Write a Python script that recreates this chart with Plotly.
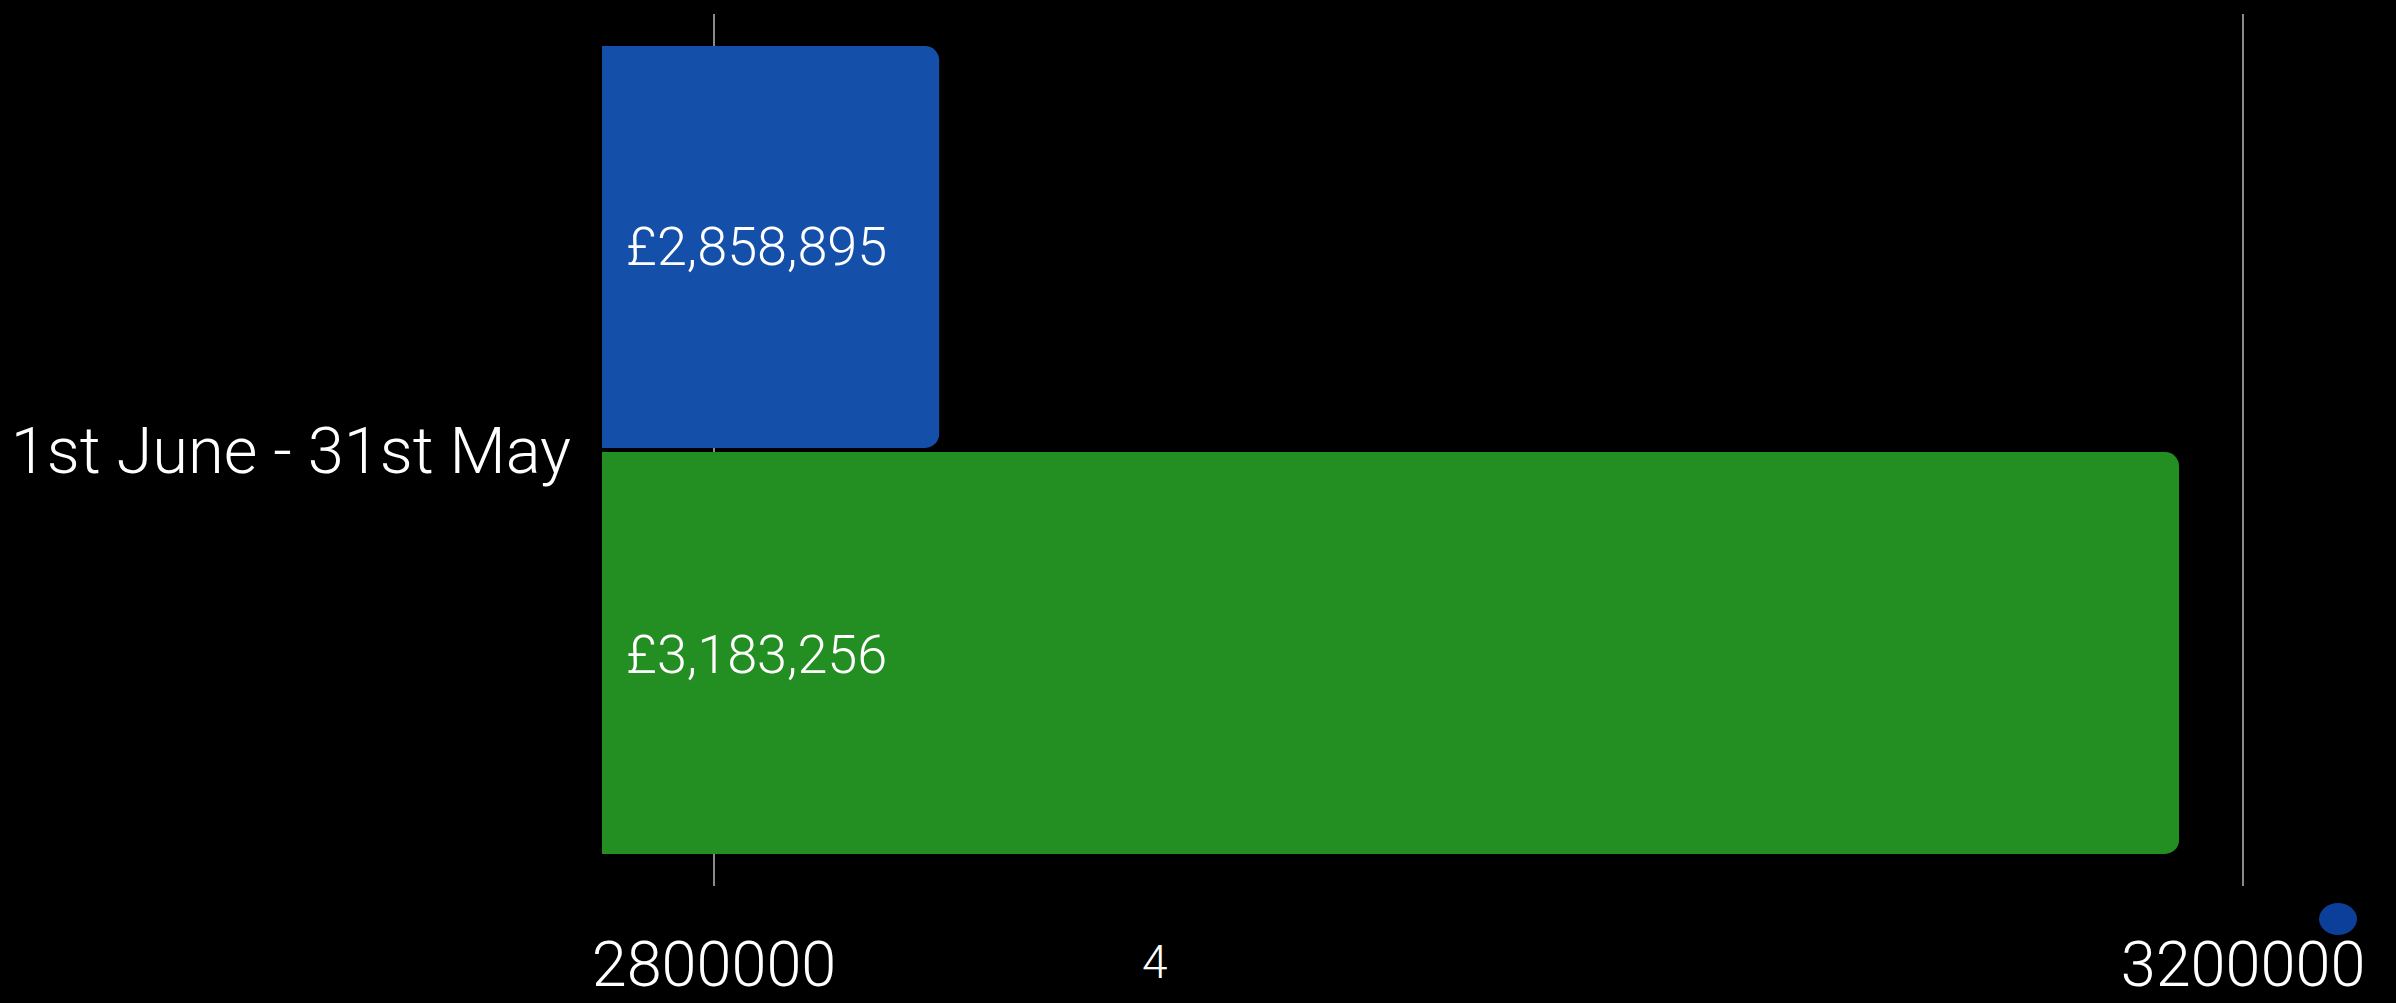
import plotly.graph_objects as go

categories = ["1st June - 31st May"]
series_names = ["Previous", "Current"]
blue_values = [2858895]
green_values = [3183256]
blue_labels = ["£2,858,895"]
green_labels = ["£3,183,256"]
tick_values = [2800000, 3200000]
x_range = [2770700, 3214900]
axis_title = "4"

FONT = "Roboto"

fig = go.Figure()
# first trace is drawn at the bottom of the group in horizontal bars
fig.add_trace(go.Bar(
    y=categories, x=green_values, orientation="h", name=series_names[1],
    marker=dict(color="#238E22", line=dict(width=0), cornerradius=14),
    hovertext=green_labels,
))
fig.add_trace(go.Bar(
    y=categories, x=blue_values, orientation="h", name=series_names[0],
    marker=dict(color="#1450AA", line=dict(width=0), cornerradius=14),
    hovertext=blue_labels,
))

fig.update_layout(
    width=2396, height=1003,
    paper_bgcolor="black", plot_bgcolor="black",
    margin=dict(l=602, r=96, t=14, b=117),
    barmode="group", bargap=0.069, bargroupgap=0.01,
    showlegend=False,
)
fig.update_xaxes(
    range=x_range, tickvals=tick_values, tickformat="d",
    showgrid=True, gridcolor="#8a8a8a", gridwidth=2,
    zeroline=False, showline=False, ticks="",
    tickfont=dict(family=FONT, size=63, color="white", weight=300),
    ticklabelstandoff=36, automargin=False,
)
fig.update_yaxes(
    showgrid=False, zeroline=False, showline=False, ticks="",
    tickfont=dict(family=FONT, size=65, color="white", weight=300),
    ticklabelstandoff=30, automargin=False,
)

# value labels placed at the start of each bar (bars begin left of the visible range)
for labels, shift in ((blue_labels, 204), (green_labels, -204)):
    for cat, lab in zip(categories, labels):
        fig.add_annotation(
            text=lab, xref="paper", x=0, xshift=22, xanchor="left",
            yref="y", y=cat, yshift=shift, yanchor="middle",
            showarrow=False,
            font=dict(family=FONT, size=54, color="white", weight=300),
        )

fig.add_annotation(
    text=axis_title, xref="paper", yref="paper",
    x=(1155 - 602) / 1698, y=-(962 - 886) / 872,
    showarrow=False, xanchor="center", yanchor="middle",
    font=dict(family=FONT, size=46, color="white", weight=300),
)
fig.add_shape(
    type="circle", xref="paper", yref="paper",
    x0=(2319 - 602) / 1698, x1=(2357 - 602) / 1698,
    y0=-(935 - 886) / 872, y1=-(903 - 886) / 872,
    fillcolor="#0B3F9A", line=dict(width=0),
)

fig.write_html(
    "out.html",
    config={"displayModeBar": False},
    post_script="document.body.style.margin='0';document.body.style.background='black';",
)
